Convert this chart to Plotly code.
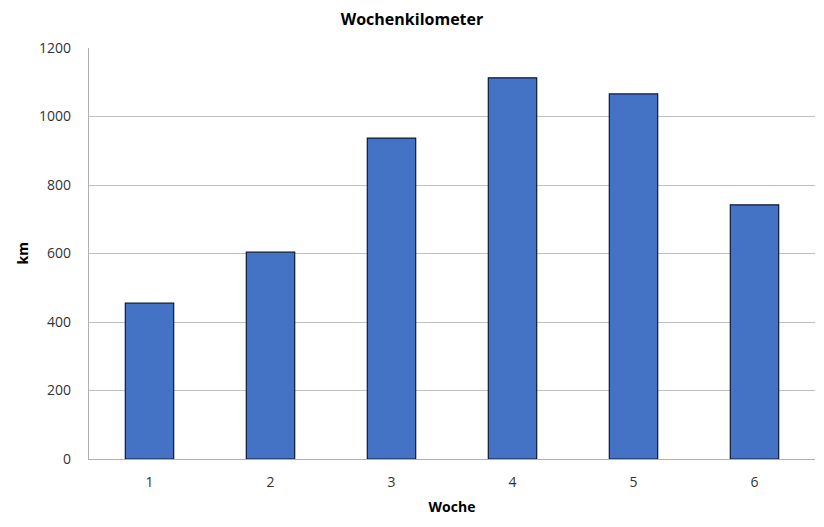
import plotly.graph_objects as go

weeks = ["1", "2", "3", "4", "5", "6"]
km = [455, 604, 937, 1113, 1066, 742]

FONT = "Open Sans, Liberation Sans, sans-serif"

fig = go.Figure()
fig.add_trace(go.Bar(
    x=weeks, y=km,
    marker=dict(color="#4472C4", line=dict(color="#0d1a33", width=1.2)),
    hoverinfo="x+y",
))

# the page puts the plot 8px in from the top-left corner, so margins compensate
fig.update_layout(
    title=dict(text="<b>Wochenkilometer</b>", x=(412 - 8) / 824, xanchor="center",
               y=1 - 11 / 527, yanchor="middle",
               font=dict(family=FONT, size=16, color="#000000")),
    width=824, height=527,
    paper_bgcolor="white", plot_bgcolor="white",
    font=dict(family=FONT, size=14, color="#333333"),
    margin=dict(l=81, r=17, t=40, b=76),
    bargap=0.6,
    showlegend=False,
)

# y-axis title as an annotation so it does not push the margin
fig.add_annotation(
    text="<b>km</b>", xref="paper", yref="paper", x=0, y=0.5,
    xshift=-67, xanchor="center", yanchor="middle", textangle=-90,
    showarrow=False, font=dict(family=FONT, size=14, color="#000"),
)

fig.update_xaxes(
    title=dict(text="<b>Woche</b>", font=dict(family=FONT, size=14, color="#000"),
               standoff=12),
    showline=True, linecolor="#b0b0b0", linewidth=1.2,
    showgrid=False, ticks="outside", ticklen=10, tickcolor="rgba(0,0,0,0)",
    tickfont=dict(size=14, color="#333"), automargin=False,
)
fig.update_yaxes(
    range=[0, 1200], dtick=200,
    showline=True, linecolor="#b0b0b0", linewidth=1.2,
    showgrid=True, gridcolor="#c0c0c0", gridwidth=1,
    ticks="outside", ticklen=14, tickcolor="rgba(0,0,0,0)",
    tickfont=dict(size=14, color="#333"),
    zeroline=False, automargin=False,
)

fig.write_html("out.html")
